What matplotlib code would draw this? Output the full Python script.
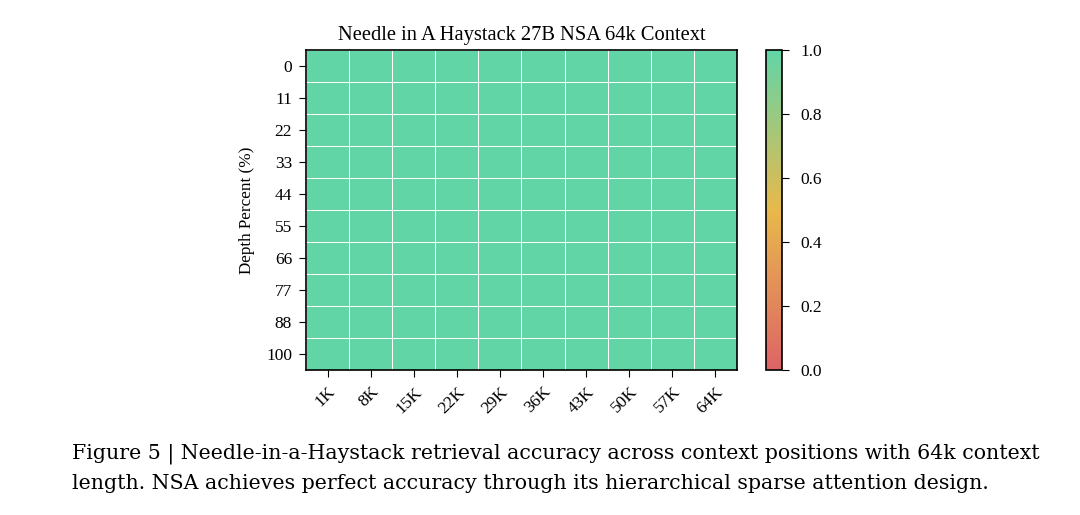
import matplotlib
matplotlib.use('Agg')
import matplotlib.pyplot as plt
import numpy as np
from matplotlib.colors import LinearSegmentedColormap

plt.rcParams['font.family'] = ['Liberation Serif', 'DejaVu Serif']

context_labels = ['1K', '8K', '15K', '22K', '29K', '36K', '43K', '50K', '57K', '64K']
depth_labels = ['0', '11', '22', '33', '44', '55', '66', '77', '88', '100']
# retrieval accuracy per (depth, context) -- all perfect
accuracy = [
    [1, 1, 1, 1, 1, 1, 1, 1, 1, 1],
    [1, 1, 1, 1, 1, 1, 1, 1, 1, 1],
    [1, 1, 1, 1, 1, 1, 1, 1, 1, 1],
    [1, 1, 1, 1, 1, 1, 1, 1, 1, 1],
    [1, 1, 1, 1, 1, 1, 1, 1, 1, 1],
    [1, 1, 1, 1, 1, 1, 1, 1, 1, 1],
    [1, 1, 1, 1, 1, 1, 1, 1, 1, 1],
    [1, 1, 1, 1, 1, 1, 1, 1, 1, 1],
    [1, 1, 1, 1, 1, 1, 1, 1, 1, 1],
    [1, 1, 1, 1, 1, 1, 1, 1, 1, 1],
]

cmap = LinearSegmentedColormap.from_list('nsa', ['#dd6466', '#e8b94b', '#62d5a7'])

fig = plt.figure(figsize=(10.8, 5.15), dpi=100)
ax = fig.add_axes([0.2833, 0.2816, 0.3991, 0.6213])
cax = fig.add_axes([0.7093, 0.2816, 0.0148, 0.6213])

data = np.array(accuracy)
im = ax.pcolormesh(data, cmap=cmap, vmin=0, vmax=1, edgecolors='white', linewidth=0.7)
ax.set_xlim(0, len(context_labels))
ax.set_ylim(len(depth_labels), 0)
ax.set_xticks(np.arange(len(context_labels)) + 0.5)
ax.set_xticklabels(context_labels, rotation=45, ha='right', rotation_mode='anchor', fontsize=12.5)
ax.set_yticks(np.arange(len(depth_labels)) + 0.5)
ax.set_yticklabels(depth_labels, fontsize=12.5)
ax.tick_params(length=5, pad=5)
ax.set_ylabel('Depth Percent (%)', fontsize=12.3, labelpad=8)
ax.set_title('Needle in A Haystack 27B NSA 64k Context', fontsize=14.8, pad=7)
for s in ax.spines.values():
    s.set_linewidth(1.2)

cb = fig.colorbar(im, cax=cax)
cb.set_ticks([0.0, 0.2, 0.4, 0.6, 0.8, 1.0])
cb.ax.tick_params(labelsize=12.5, length=5, pad=8)
cb.outline.set_linewidth(1.2)

fig.text(0.0667, 0.091, 'Figure 5 | Needle-in-a-Haystack retrieval accuracy across context positions with 64k context\n'
         'length. NSA achieves perfect accuracy through its hierarchical sparse attention design.',
         fontsize=14.8, family='DejaVu Serif', va='center', ha='left', linespacing=1.65)

fig.savefig('out.png', dpi=100)
